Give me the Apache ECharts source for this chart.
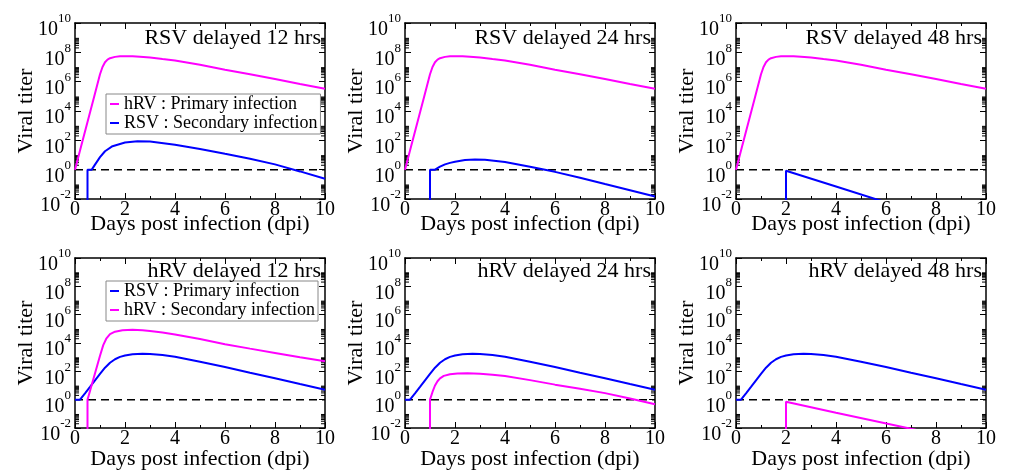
<!DOCTYPE html>
<html><head><meta charset="utf-8">
<script src="https://cdn.jsdelivr.net/npm/echarts@6/dist/echarts.min.js"></script>
<style>html,body{margin:0;padding:0;background:#fff}#c{width:1011px;height:471px}</style>
</head><body><div id="c"></div>
<script>
// ---------- data ----------
const titles = ['RSV delayed 12 hrs', 'RSV delayed 24 hrs', 'RSV delayed 48 hrs',
                'hRV delayed 12 hrs', 'hRV delayed 24 hrs', 'hRV delayed 48 hrs'];
const xTickLabels = ['0', '2', '4', '6', '8', '10'];
const yTickExponents = [-2, 0, 2, 4, 6, 8, 10];
const threshold = [1, 1];            // dashed detection line at 10^0
const thresholdX = [0, 10];

// top row: hRV primary (same in all three panels)
const hrvPrimaryX = [0, 0.25, 0.5, 0.75, 1.0, 1.1, 1.2, 1.3, 1.4, 1.6, 1.8, 2.0, 2.3, 2.6, 3.0, 3.5, 4, 5, 6, 7, 8, 9, 10];
const hrvPrimaryY = [1, 4.2e1, 1.8e3, 7.4e4, 3.2e6, 1.0e7, 2.1e7, 3.2e7, 4.0e7, 4.9e7, 5.4e7, 5.5e7, 5.4e7, 5.0e7, 4.4e7, 3.5e7, 2.8e7, 1.4e7, 6.6e6, 3.2e6, 1.5e6, 6.9e5, 3.3e5];
// RSV secondary, delayed 12 / 24 / 48 hrs (1e-4 = below the axis, before inoculation)
const rsvSec12X = [0.5, 0.5, 0.67, 0.8, 1.0, 1.2, 1.5, 2.0, 2.5, 3.0, 4, 5, 6, 7, 8, 9, 10];
const rsvSec12Y = [1e-4, 1, 1, 2.2, 7.1, 18, 40, 71, 85, 83, 50, 26, 12, 5.6, 2.3, 0.76, 0.24];
const rsvSec24X = [1, 1, 1.2, 1.4, 1.6, 1.8, 2.0, 2.4, 2.8, 3.2, 4, 5, 6, 7, 8, 9, 10];
const rsvSec24Y = [1e-4, 1, 1, 1.6, 2.3, 2.9, 3.5, 4.5, 4.9, 4.7, 3.3, 1.6, 0.71, 0.28, 0.105, 0.04, 0.015];
const rsvSec48X = [2, 2, 4, 10];
const rsvSec48Y = [1e-4, 0.85, 0.071, 4e-5];

// bottom row: RSV primary (same in all three panels)
const rsvPrimaryX = [0, 0.2, 0.4, 0.6, 0.8, 1.0, 1.2, 1.4, 1.6, 1.8, 2.0, 2.3, 2.7, 3.0, 3.5, 4, 5, 6, 7, 8, 9, 10];
const rsvPrimaryY = [1, 1, 2.8, 7.9, 23, 66, 180, 400, 710, 1050, 1300, 1600, 1740, 1700, 1400, 1070, 480, 200, 79, 32, 12.6, 5.0];
// hRV secondary, delayed 12 / 24 / 48 hrs
const hrvSec12X = [0.5, 0.5, 0.75, 1.0, 1.13, 1.25, 1.4, 1.6, 1.9, 2.3, 2.7, 3.0, 3.5, 4, 5, 6, 7, 8, 9, 10];
const hrvSec12Y = [1e-4, 1, 35, 1260, 7100, 2.0e4, 4.2e4, 6.3e4, 7.9e4, 8.5e4, 7.9e4, 7.1e4, 5.5e4, 4.0e4, 1.9e4, 8.3e3, 4.0e3, 2.0e3, 1.0e3, 520];
const hrvSec24X = [1, 1, 1.1, 1.2, 1.3, 1.4, 1.55, 1.8, 2.1, 2.5, 3, 3.5, 4, 5, 6, 7, 8, 9, 10];
const hrvSec24Y = [1e-4, 1, 3.5, 10, 20, 32, 48, 63, 71, 72, 68, 58, 46, 24, 11.5, 5.9, 2.9, 1.2, 0.47];
const hrvSec48X = [2, 2, 4, 10];
const hrvSec48Y = [1e-4, 0.71, 0.12, 6.5e-4];

// log-axis minor tick multipliers (k x 10^even)
const minorMultipliers = [2, 3, 4, 5, 6, 7, 8, 9];
const minorDecades = [-2, 0, 2, 4, 6, 8];

const legendTop = ['hRV : Primary infection', 'RSV : Secondary infection'];
const legendBottom = ['RSV : Primary infection', 'hRV : Secondary infection'];

// ---------- styling / layout ----------
const FONT = 'Liberation Serif';
const MAGENTA = '#ff00ff', BLUE = '#0000ff';
const zip = (xs, ys) => xs.map((x, i) => [x, ys[i]]);

const panels = [
  [[legendTop[0], MAGENTA, hrvPrimaryX, hrvPrimaryY], [legendTop[1], BLUE, rsvSec12X, rsvSec12Y]],
  [[legendTop[0], MAGENTA, hrvPrimaryX, hrvPrimaryY], [legendTop[1], BLUE, rsvSec24X, rsvSec24Y]],
  [[legendTop[0], MAGENTA, hrvPrimaryX, hrvPrimaryY], [legendTop[1], BLUE, rsvSec48X, rsvSec48Y]],
  [[legendBottom[0], BLUE, rsvPrimaryX, rsvPrimaryY], [legendBottom[1], MAGENTA, hrvSec12X, hrvSec12Y]],
  [[legendBottom[0], BLUE, rsvPrimaryX, rsvPrimaryY], [legendBottom[1], MAGENTA, hrvSec24X, hrvSec24Y]],
  [[legendBottom[0], BLUE, rsvPrimaryX, rsvPrimaryY], [legendBottom[1], MAGENTA, hrvSec48X, hrvSec48Y]]
];
const colLeft = [75, 405, 736];
const rowTop = [23, 258];
const rowH = [176, 174];
const W = 250;
const titleTop = [27, 260];
const xNameGap = [14, 20];

const minorVals = [];
minorDecades.forEach(e => minorMultipliers.forEach(k => minorVals.push(k * Math.pow(10, e))));

const grid = [], xAxis = [], yAxis = [], series = [], title = [];
const axisLineStyle = { color: '#000', width: 1.5 };
const txt = { fontFamily: FONT, color: '#000' };

panels.forEach((curves, i) => {
  const r = Math.floor(i / 3), c = i % 3;
  const left = colLeft[c], top = rowTop[r], h = rowH[r];
  grid.push({ left: left, top: top, width: W, height: h, containLabel: false });
  const xBase = {
    gridIndex: i, type: 'value', min: 0, max: 10, interval: 2,
    axisLine: { show: true, onZero: false, lineStyle: axisLineStyle },
    axisTick: { show: true, inside: true, length: 6, lineStyle: { color: '#000', width: 1 } },
    minorTick: { show: true, splitNumber: 2, length: 3, lineStyle: { color: '#000', width: 1 } },
    splitLine: { show: false }, minorSplitLine: { show: false }
  };
  xAxis.push(Object.assign({}, xBase, {
    position: 'bottom',
    axisLabel: Object.assign({ fontSize: 20, margin: 1, showMinLabel: true, showMaxLabel: true,
      formatter: v => xTickLabels[v / 2] }, txt),
    name: 'Days post infection (dpi)', nameLocation: 'middle', nameGap: xNameGap[r],
    nameMoveOverlap: false,
    nameTextStyle: Object.assign({ fontSize: 22 }, txt)
  }));
  xAxis.push(Object.assign({}, xBase, { position: 'top', axisLabel: { show: false } }));
  const yBase = {
    gridIndex: i, type: 'log', logBase: 10, min: 0.01, max: 1e10, interval: 2,
    axisLine: { show: true, onZero: false, lineStyle: axisLineStyle },
    axisTick: { show: true, inside: true, length: 6, lineStyle: { color: '#000', width: 1 } },
    splitLine: { show: false }
  };
  yAxis.push(Object.assign({}, yBase, {
    position: 'left',
    axisLabel: {
      margin: 4, padding: [6, 0, 0, 0], showMinLabel: true, showMaxLabel: true, hideOverlap: false,
      formatter: v => {
        const e = Math.round(Math.log10(v));
        return yTickExponents.indexOf(e) >= 0 ? '{s|' + e + '}\n{b|10}{h|' + e + '}' : '';
      },
      rich: {
        s: Object.assign({ fontSize: 13, lineHeight: 8 }, txt),
        b: Object.assign({ fontSize: 20, lineHeight: 14 }, txt),
        h: { fontFamily: FONT, fontSize: 13, lineHeight: 14, color: 'rgba(0,0,0,0)' }
      }
    },
    name: 'Viral titer', nameLocation: 'middle', nameGap: 38, nameMoveOverlap: false,
    nameTextStyle: Object.assign({ fontSize: 22 }, txt)
  }));
  yAxis.push(Object.assign({}, yBase, { position: 'right', axisLabel: { show: false } }));

  title.push({
    text: titles[i], right: 1011 - (left + W - 4), top: titleTop[r], padding: 0,
    textStyle: Object.assign({ fontSize: 22, fontWeight: 'normal' }, txt)
  });

  // dashed threshold
  series.push({
    type: 'line', name: 'threshold', xAxisIndex: 2 * i, yAxisIndex: 2 * i,
    data: zip(thresholdX, threshold), symbol: 'none', silent: true,
    lineStyle: { color: '#000', width: 1.5, type: [8, 5] }, z: 1
  });
  curves.forEach(([name, color, xs, ys]) => {
    series.push({
      type: 'line', name: name, xAxisIndex: 2 * i, yAxisIndex: 2 * i,
      data: zip(xs, ys), symbol: 'none', showSymbol: false, clip: true,
      color: color, itemStyle: { color: color },
      lineStyle: { color: color, width: 2 }, z: 3
    });
  });
  // log minor ticks on left/right borders
  series.push({
    type: 'custom', name: 'minor', xAxisIndex: 2 * i, yAxisIndex: 2 * i, silent: true,
    data: minorVals.map(v => [0, v]),
    renderItem: (params, api) => {
      const v = api.value(1);
      const p = api.coord([0, v]), q = api.coord([10, v]);
      const st = { stroke: '#000', lineWidth: 1 };
      return { type: 'group', children: [
        { type: 'line', shape: { x1: p[0], y1: p[1], x2: p[0] + 4, y2: p[1] }, style: st },
        { type: 'line', shape: { x1: q[0] - 4, y1: q[1], x2: q[0], y2: q[1] }, style: st }
      ] };
    }, z: 2
  });
});

const legendCommon = {
  orient: 'vertical', left: 106, padding: [1, 3, 2, 4], itemGap: 1,
  itemWidth: 9, itemHeight: 2, icon: 'rect',
  borderColor: '#888', borderWidth: 1, backgroundColor: '#fff',
  textStyle: Object.assign({ fontSize: 18 }, txt), selectedMode: false
};
const legend = [
  Object.assign({ data: legendTop, top: 94 }, legendCommon),
  Object.assign({ data: legendBottom, top: 281 }, legendCommon)
];

const chart = echarts.init(document.getElementById('c'), null, { renderer: 'canvas' });
chart.setOption({ animation: false, backgroundColor: '#fff', title, legend, grid, xAxis, yAxis, series });
</script></body></html>
